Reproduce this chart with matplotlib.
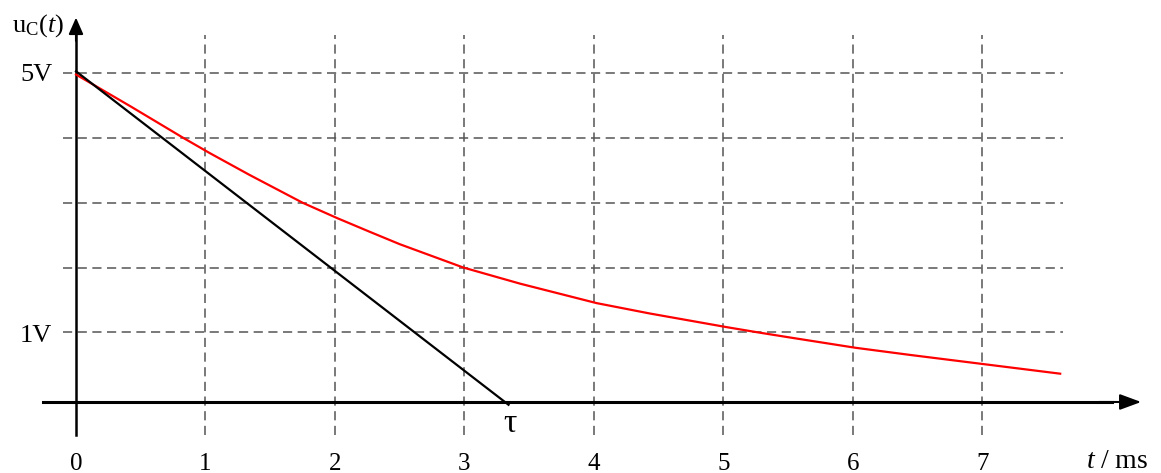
import matplotlib
matplotlib.use("Agg")
import matplotlib.pyplot as plt

# ---- data ----
t_curve = [0, 0.42, 0.83, 1.03, 1.34, 1.75, 2.02, 2.27, 2.5, 2.99, 3.43, 4.02, 4.43,
           5.03, 5.26, 5.51, 6.02, 6.44, 7.0, 7.6]
u_curve = [4.98, 4.49, 4.0, 3.77, 3.43, 3.0, 2.76, 2.55, 2.36, 2.0, 1.75, 1.45, 1.29,
           1.077, 1.0, 0.92, 0.76, 0.65, 0.51, 0.36]
t_tangent = [0, 3.34]
u_tangent = [5.03, -0.12]
x_ticks = [0, 1, 2, 3, 4, 5, 6, 7]
x_tick_labels = ["0", "1", "2", "3", "4", "5", "6", "7"]
y_grid = [1, 2, 3, 4, 5]
y_labels = {5: "5V", 1: "1V"}
tau_value = 3.34

plt.rcParams['mathtext.fontset'] = 'custom'
plt.rcParams['mathtext.rm'] = 'Liberation Serif'
plt.rcParams['mathtext.it'] = 'Liberation Serif:italic'
plt.rcParams['font.family'] = ['Liberation Serif', 'DejaVu Serif']

W, H = 1161, 473
fig = plt.figure(figsize=(W / 100, H / 100), dpi=100)
ax = fig.add_axes([0, 0, 1, 1])
# pixel mapping: x_px = 76 + 129.5 t ; y_px = 397 - 64.75 u
ax.set_xlim(-76 / 129.5, (W - 76) / 129.5)
ax.set_ylim(-(H - 397) / 64.75, 397 / 64.75)
ax.axis('off')

gcol = '#555555'
dash = (6, 3.6)
x_axis_u = -0.077
# vertical grid
for t in x_ticks[1:]:
    ax.plot([t, t], [-0.587, 5.59], color=gcol, lw=1.1, dashes=dash, zorder=1)
# horizontal grid
for u in y_grid:
    ax.plot([-0.10, 7.62], [u, u], color=gcol, lw=1.1, dashes=dash, zorder=1)

# axes with arrows
ax.plot([0, 0], [-0.587, 5.6], color='black', lw=1.8, zorder=3)
ax.annotate('', xy=(0, 5.86), xytext=(0, 5.5),
            arrowprops=dict(arrowstyle='-|>,head_length=0.5,head_width=0.22',
                            color='black', lw=1.5, shrinkA=0, shrinkB=0, mutation_scale=20),
            zorder=3)
ax.plot([-0.255, 8.0], [x_axis_u, x_axis_u], color='black', lw=2.2, zorder=3)
ax.annotate('', xy=(8.225, x_axis_u), xytext=(7.9, x_axis_u),
            arrowprops=dict(arrowstyle='-|>,head_length=0.65,head_width=0.24',
                            color='black', lw=1.5, shrinkA=0, shrinkB=0, mutation_scale=20),
            zorder=3)

# curves
ax.plot(t_curve, u_curve, color='#ff0000', lw=1.6, zorder=4, solid_joinstyle='round')
ax.plot(t_tangent, u_tangent, color='black', lw=1.6, zorder=4)

fs = 18
base_u = -1.12
for t, lab in zip(x_ticks, x_tick_labels):
    ax.text(t, base_u, lab, ha='center', va='baseline', fontsize=fs)
for u, lab in y_labels.items():
    ax.text(-0.185, u - 0.12 if u == 5 else u - 0.155, lab, ha='right', va='baseline', fontsize=fs + 1)
ax.text(-0.494, 5.637, r'$\mathrm{u_C(}t\mathrm{)}$', ha='left', va='baseline', fontsize=fs + 1)
ax.text(8.28, -1.09, r'$t\ \mathrm{/\ ms}$', ha='right', va='baseline', fontsize=fs + 2)
ax.text(tau_value + 0.01, -0.54, 'τ', ha='center', va='baseline', fontsize=24)

fig.savefig('out.png', dpi=100)
